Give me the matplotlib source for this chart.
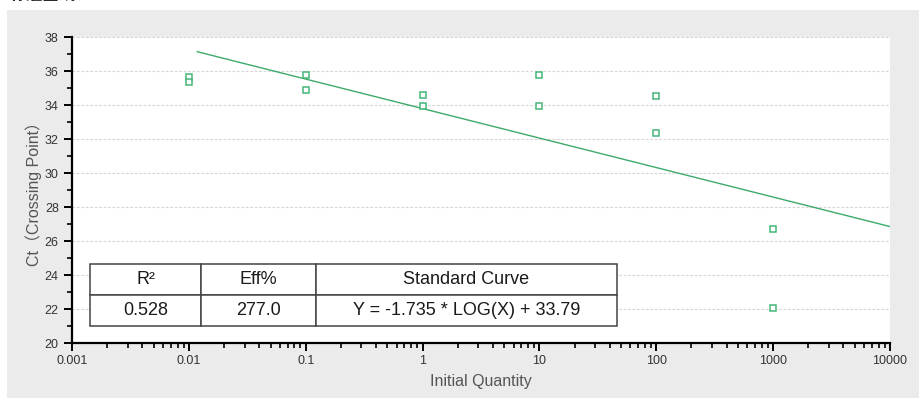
import numpy as np
import matplotlib
matplotlib.use("Agg")
import matplotlib.pyplot as plt
from matplotlib.ticker import LogLocator, FixedLocator, MultipleLocator, FixedFormatter
from matplotlib.patches import Rectangle

plt.rcParams['font.family'] = ['Liberation Sans', 'Noto Sans CJK SC', 'DejaVu Sans']

# data
quantity = [0.01, 0.01, 0.1, 0.1, 1, 1, 10, 10, 100, 100, 1000, 1000]
ct = [35.65, 35.33, 35.76, 34.86, 34.59, 33.94, 35.76, 33.94, 34.53, 32.33, 26.69, 22.04]
slope = -1.735
intercept = 33.79
fit_range = [0.0118, 10000]
xtick_vals = [0.001, 0.01, 0.1, 1, 10, 100, 1000, 10000]
xtick_labels = ['0.001', '0.01', '0.1', '1', '10', '100', '1000', '10000']
col_labels = ['R\u00b2', 'Eff%', 'Standard Curve']
row_values = ['0.528', '277.0', 'Y = -1.735 * LOG(X) + 33.79']

W, H = 920, 398
fig = plt.figure(figsize=(W / 100, H / 100), dpi=100, facecolor='white')

# grey panel behind the chart
fig.patches.append(Rectangle((7 / W, 0), 1, (H - 10) / H, transform=fig.transFigure,
                             facecolor='#ebebeb', edgecolor='none', zorder=-5))
# cut-off heading at the very top (only its lower edge is visible in the source)
fig.text(10 / W, (H - 4) / H, '标准曲线：', fontsize=12, fontweight='bold',
         family=['Noto Sans CJK SC', 'DejaVu Sans'], va='bottom', ha='left', color='#222222')

ax = fig.add_axes([72 / W, (H - 343) / H, 818 / W, 306 / H])
ax.set_facecolor('white')

green = '#3daa6c'
xs = np.logspace(np.log10(fit_range[0]), np.log10(fit_range[1]), 50)
ax.plot(xs, slope * np.log10(xs) + intercept, color=green, lw=1.0, zorder=3)
ax.plot(quantity, ct, ls='none', marker='s', ms=4.2, mfc='white', mec='#45b577',
        mew=1.1, zorder=4)

ax.set_xscale('log')
ax.set_xlim(0.001, 10000)
ax.set_ylim(20, 38)
ax.xaxis.set_major_locator(FixedLocator(xtick_vals))
ax.xaxis.set_major_formatter(FixedFormatter(xtick_labels))
ax.xaxis.set_minor_locator(LogLocator(base=10, subs=np.arange(2, 10)))
ax.xaxis.set_minor_formatter(plt.NullFormatter())
ax.yaxis.set_major_locator(MultipleLocator(2))
ax.yaxis.set_minor_locator(MultipleLocator(1))

for s in ['top', 'right']:
    ax.spines[s].set_visible(False)
for s in ['left', 'bottom']:
    ax.spines[s].set_linewidth(1.6)
    ax.spines[s].set_color('black')

ax.tick_params(which='major', direction='out', length=6, width=1.4, colors='black',
               labelcolor='#333333', labelsize=9)
ax.tick_params(which='minor', direction='out', length=3.5, width=1.2, colors='black')
ax.tick_params(axis='x', pad=3)
for lab in ax.get_xticklabels():
    lab.set_fontfamily(['Liberation Sans Narrow', 'Liberation Sans'])

ax.yaxis.grid(True, which='major', ls=(0, (2.5, 1.5)), color='#d6d6d6', lw=0.8)
ax.set_axisbelow(True)

ax.set_ylabel('Ct（Crossing Point）', fontsize=11.5, color='#555555', labelpad=2)
ax.set_xlabel('Initial Quantity', fontsize=11.5, color='#555555', labelpad=5)

tab = ax.table(cellText=[row_values], colLabels=col_labels, cellLoc='center',
               colWidths=[111, 115, 301], bbox=[18 / 818, 17 / 306, 527 / 818, 62 / 306])
tab.auto_set_font_size(False)
for (r, c), cell in tab.get_celld().items():
    cell.set_edgecolor('#444444')
    cell.set_linewidth(1.1)
    cell.set_facecolor('white')
    cell.get_text().set_fontsize(13)
    cell.get_text().set_color('#1a1a1a')
tab.set_zorder(5)

fig.savefig('out.png', dpi=100, facecolor=fig.get_facecolor())
